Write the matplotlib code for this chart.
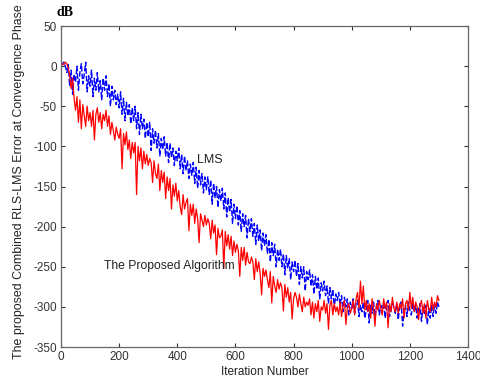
import matplotlib
matplotlib.use('Agg')
import matplotlib.pyplot as plt

plt.rcParams['font.family'] = ['Liberation Sans', 'DejaVu Sans']
plt.rcParams['axes.unicode_minus'] = False

# iterations sampled every 5 steps
iterations = list(range(0, 1305, 5))

# The Proposed Algorithm (red), dB
proposed_db = [
    0, 3, 2, 5, 3, -2, -12, -28, -15, -40,
    -55, -38, -70, -42, -78, -48, -62, -75, -50, -68,
    -58, -75, -55, -92, -60, -52, -70, -58, -78, -60,
    -68, -55, -75, -62, -85, -70, -80, -92, -76, -85,
    -90, -78, -128, -84, -98, -82, -104, -92, -115, -95,
    -108, -95, -160, -100, -118, -102, -128, -106, -122, -110,
    -124, -115, -120, -145, -118, -134, -140, -122, -155, -130,
    -145, -132, -165, -138, -155, -140, -178, -148, -162, -146,
    -168, -155, -175, -185, -160, -178, -170, -165, -205, -172,
    -186, -172, -196, -178, -190, -220, -184, -192, -200, -186,
    -198, -190, -196, -215, -192, -208, -198, -235, -202, -214,
    -212, -204, -252, -206, -224, -210, -228, -212, -236, -218,
    -232, -222, -230, -262, -226, -242, -226, -248, -232, -244,
    -246, -238, -244, -266, -240, -256, -244, -258, -285, -252,
    -262, -254, -266, -276, -256, -295, -262, -274, -282, -266,
    -278, -270, -276, -305, -272, -288, -276, -294, -282, -315,
    -290, -282, -288, -300, -284, -296, -306, -288, -300, -294,
    -298, -290, -310, -294, -314, -296, -306, -292, -318, -300,
    -304, -292, -308, -296, -328, -298, -292, -310, -296, -306,
    -300, -310, -294, -312, -298, -292, -322, -300, -296, -308,
    -302, -292, -310, -290, -282, -302, -268, -296, -274, -304,
    -292, -306, -296, -314, -290, -302, -324, -296, -304, -292,
    -302, -310, -290, -302, -294, -326, -296, -306, -288, -302,
    -306, -294, -308, -296, -302, -290, -314, -296, -292, -304,
    -282, -302, -288, -306, -294, -300, -316, -298, -292, -308,
    -296, -314, -292, -302, -306, -288, -304, -294, -300, -286,
    -292,
]

# LMS (blue), dB
lms_db = [
    0, 3, 5, 0, -8, 2, -25, -5, -35, -10,
    -20, 0, -30, -8, 3, -22, -10, 5, -32, -12,
    -25, -5, -38, -15, -30, -8, -32, -18, -42, -15,
    -30, -12, -38, -22, -50, -25, -42, -30, -48, -35,
    -52, -32, -60, -40, -68, -45, -62, -48, -72, -52,
    -68, -50, -78, -58, -85, -60, -78, -66, -90, -70,
    -88, -70, -105, -78, -96, -80, -102, -84, -112, -90,
    -104, -88, -112, -95, -120, -96, -114, -102, -124, -106,
    -118, -102, -128, -110, -134, -112, -130, -118, -140, -122,
    -136, -120, -146, -126, -152, -130, -148, -134, -158, -138,
    -154, -138, -160, -142, -172, -146, -164, -150, -176, -154,
    -168, -152, -178, -158, -188, -164, -182, -166, -196, -172,
    -190, -174, -198, -180, -206, -184, -200, -186, -214, -190,
    -206, -190, -212, -196, -222, -198, -218, -204, -230, -208,
    -224, -210, -234, -216, -244, -220, -236, -222, -250, -228,
    -242, -228, -250, -234, -260, -236, -252, -240, -266, -244,
    -256, -242, -262, -246, -272, -250, -264, -250, -280, -256,
    -266, -254, -274, -260, -284, -262, -278, -264, -290, -270,
    -280, -268, -286, -274, -296, -276, -290, -278, -302, -284,
    -292, -282, -298, -286, -306, -288, -300, -290, -310, -294,
    -302, -290, -308, -296, -292, -312, -298, -306, -294, -314,
    -304, -292, -320, -298, -308, -294, -312, -300, -292, -310,
    -298, -308, -294, -314, -300, -292, -312, -304, -296, -300,
    -308, -296, -316, -300, -294, -324, -306, -298, -312, -294,
    -304, -310, -296, -306, -298, -314, -302, -296, -318, -300,
    -308, -298, -322, -302, -314, -298, -312, -296, -308, -294,
    -300,
]

x_ticks = [0, 200, 400, 600, 800, 1000, 1200, 1400]
y_ticks = [-350, -300, -250, -200, -150, -100, -50, 0, 50]

fig = plt.figure(figsize=(4.81, 3.82), dpi=100)
ax = fig.add_axes([0.1268, 0.0916, 0.8462, 0.8403])

ax.plot(iterations, lms_db, color='#0000ff', lw=1.0, dashes=(4, 1.5))
ax.plot(iterations, proposed_db, color='#ff0000', lw=0.9)

ax.set_xlim(0, 1400)
ax.set_ylim(-350, 50)
ax.set_xticks(x_ticks)
ax.set_yticks(y_ticks)
ax.tick_params(direction='in', length=3, width=0.8, top=True, right=True,
               labelsize=8.5, colors='#333333', pad=3)
for sp in ax.spines.values():
    sp.set_color('#666666')
    sp.set_linewidth(0.9)

ax.set_xlabel('Iteration Number', fontsize=8.5, color='#222222', labelpad=2)
ax.set_ylabel('The proposed Combined RLS-LMS Error at Convergence Phase',
              fontsize=8.9, color='#222222')
ax.yaxis.set_label_coords(-0.089, 0.515)

ax.text(513, -117, 'LMS', fontsize=9, color='#222222', ha='center', va='center')
ax.text(148, -249, 'The Proposed Algorithm', fontsize=8.7, color='#222222',
        ha='left', va='center')
fig.text(65 / 481, 1 - 13 / 382, 'dB', fontsize=10, fontweight='bold',
         family='Liberation Serif', ha='center', va='center')

fig.savefig('out.png', dpi=100)
